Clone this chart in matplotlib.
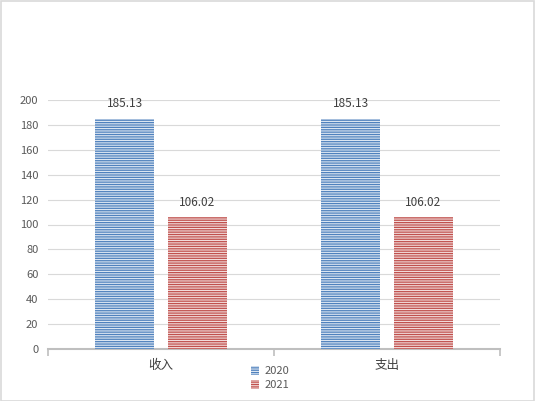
import matplotlib.pyplot as plt
from matplotlib.patches import Patch, Rectangle

# chart data
categories = ['收入', '支出']
series_names = ['2020', '2021']
values_2020 = [185.13, 185.13]
values_2021 = [106.02, 106.02]

plt.rcParams['font.family'] = ['Noto Sans CJK SC', 'DejaVu Sans']
plt.rcParams['hatch.linewidth'] = 0.9

blue_face, blue_line = '#dce6f2', '#4f81bd'
red_face, red_line = '#f2dcdb', '#c0504d'

fig = plt.figure(figsize=(5.35, 4.01), dpi=100)
ax = fig.add_axes([48 / 535, 52 / 401, 452 / 535, 249 / 401])

x = list(range(len(categories)))
width = 0.26
off = 0.16
bars1 = ax.bar([i - off for i in x], values_2020, width, color=blue_face,
               edgecolor=blue_line, linewidth=0, hatch='-------', zorder=3)
bars2 = ax.bar([i + off for i in x], values_2021, width, color=red_face,
               edgecolor=red_line, linewidth=0, hatch='-------', zorder=3)

for bars in (bars1, bars2):
    for b in bars:
        ax.annotate(f'{b.get_height():.2f}', (b.get_x() + b.get_width() / 2, b.get_height()),
                    xytext=(0, 6), textcoords='offset points', ha='center', va='bottom',
                    fontsize=8.5, color='#404040')

ax.set_xlim(-0.5, 1.5)
ax.set_ylim(0, 200)
ax.set_yticks(range(0, 201, 20))
ax.grid(axis='y', color='#d9d9d9', linewidth=0.8, zorder=0)
ax.tick_params(axis='y', length=0, pad=7, labelsize=8, labelcolor='#595959')

ax.set_xticks(x)
ax.set_xticklabels(categories)
ax.set_xticks([-0.5, 0.5, 1.5], minor=True)
ax.tick_params(axis='x', which='major', length=0, pad=7, labelsize=9, labelcolor='#404040')
ax.tick_params(axis='x', which='minor', length=5, width=1.2, color='#bfbfbf')

for s in ('top', 'right', 'left'):
    ax.spines[s].set_visible(False)
ax.spines['bottom'].set_color('#bfbfbf')
ax.spines['bottom'].set_linewidth(1.5)

handles = [Patch(facecolor=blue_face, edgecolor=blue_line, linewidth=0, hatch='-------', label=series_names[0]),
           Patch(facecolor=red_face, edgecolor=red_line, linewidth=0, hatch='-------', label=series_names[1])]
leg = fig.legend(handles=handles, loc='upper center', bbox_to_anchor=(0.505, 0.102), ncol=1,
                 frameon=False, fontsize=8, handlelength=0.75, handleheight=0.9,
                 handletextpad=0.5, labelspacing=0.35, borderpad=0)
for t in leg.get_texts():
    t.set_color('#595959')

# light border around the whole chart
fig.patches.append(Rectangle((0.001, 0.001), 0.997, 0.997, transform=fig.transFigure,
                             fill=False, edgecolor='#d9d9d9', linewidth=1.2))

plt.savefig('out.png', dpi=100)
